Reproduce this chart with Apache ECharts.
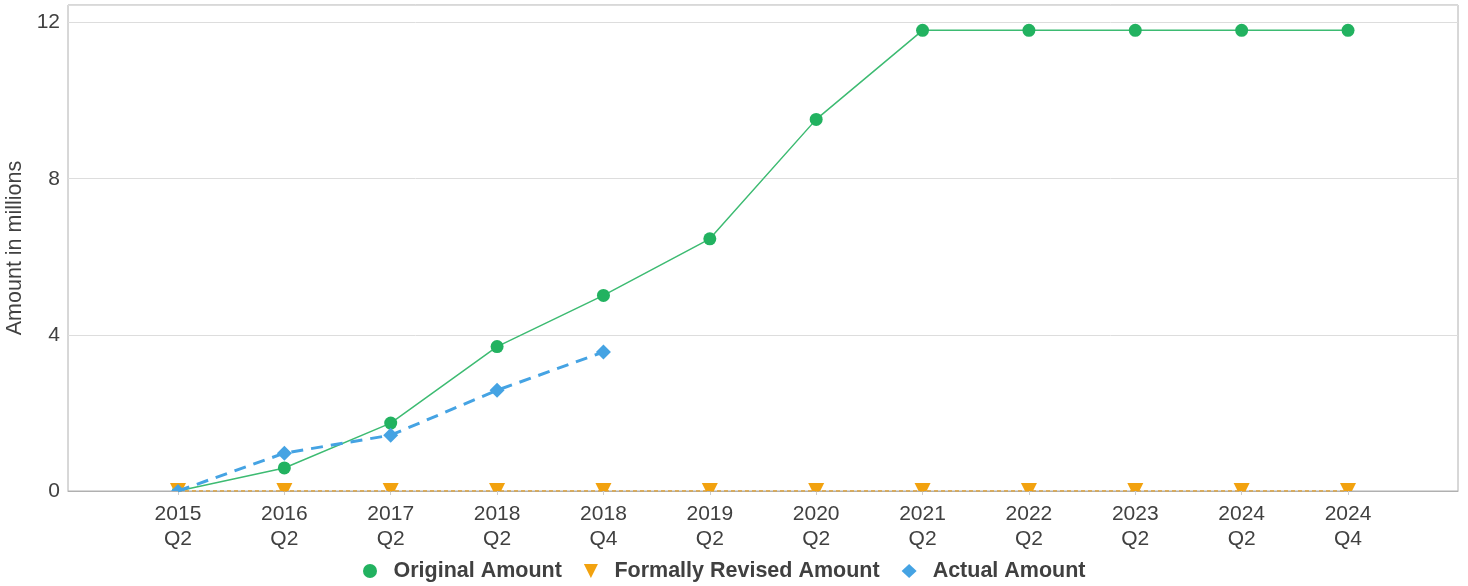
<!DOCTYPE html>
<html><head><meta charset="utf-8">
<script src="https://cdn.jsdelivr.net/npm/echarts@6/dist/echarts.min.js"></script>
<style>html,body{margin:0;padding:0;background:#fff}#c{width:1468px;height:586px}</style>
</head><body><div id="c"></div>
<script>
const categories = ['2015\nQ2','2016\nQ2','2017\nQ2','2018\nQ2','2018\nQ4','2019\nQ2','2020\nQ2','2021\nQ2','2022\nQ2','2023\nQ2','2024\nQ2','2024\nQ4'];
const originalAmount = [0, 0.59, 1.74, 3.70, 5.01, 6.46, 9.52, 11.8, 11.8, 11.8, 11.8, 11.8];
const revisedAmount = [0, 0, 0, 0, 0, 0, 0, 0, 0, 0, 0, 0];
const actualAmount = [0, 0.97, 1.43, 2.58, 3.56, null, null, null, null, null, null, null];
const yTicks = [0, 4, 8, 12];

// symbols: full shapes, and half shapes for points sitting on the bottom edge (clipped look)
const triFull = 'path://M0,0 L16,0 L8,16 Z';
const triHalf = 'path://M0,0 L16,0 L12,8 L4,8 Z';
const diaHalf = 'path://M0,7 L7,0 L14,7 Z';
const cirHalf = 'path://M0,6 A6,6 0 0 1 12,6 Z';

function build(values, full, fullSize, half, halfSize) {
  return values.map((v, i) => {
    if (v === 0) return { value: [i, v], symbol: half, symbolSize: halfSize, symbolOffset: [0, -halfSize[1] / 2] };
    return { value: [i, v], symbol: full, symbolSize: fullSize };
  });
}
const idx = categories.map((_, i) => i);

const chart = echarts.init(document.getElementById('c'));
chart.setOption({
  animation: false,
  grid: { left: 68, right: 10, top: 5, bottom: 95, show: true, borderColor: '#b0b0b0', borderWidth: 1,
    outerBoundsMode: 'none', containLabel: false },
  legend: {
    bottom: -1, left: 358, itemGap: 22, itemWidth: 15, itemHeight: 14,
    textStyle: { fontSize: 21.5, fontWeight: 'bold', color: '#404040', fontFamily: 'Liberation Sans', padding: [0, 0, 0, 11] },
    data: [
      { name: 'Original Amount', icon: 'circle', itemStyle: { color: '#22b260' } },
      { name: 'Formally Revised Amount', icon: triFull },
      { name: 'Actual Amount', icon: 'diamond' }
    ]
  },
  xAxis: {
    type: 'value', min: -1.034, max: 12.034,
    axisLine: { show: true, onZero: false, lineStyle: { color: '#b0b0b0' } },
    axisTick: { show: true, length: 4, customValues: idx, lineStyle: { color: '#cccccc' } },
    axisLabel: { fontSize: 21, color: '#404040', lineHeight: 25, margin: 11, fontFamily: 'Liberation Sans',
      customValues: idx, formatter: v => categories[Math.round(v)] || '' },
    splitLine: { show: false }
  },
  yAxis: {
    type: 'value', min: 0, max: 12.45, interval: 4,
    name: 'Amount in millions', nameLocation: 'middle', nameGap: 42,
    nameTextStyle: { fontSize: 21.5, color: '#404040', fontFamily: 'Liberation Sans' },
    axisLine: { show: false }, axisTick: { show: false },
    axisLabel: { fontSize: 21, color: '#404040', fontFamily: 'Liberation Sans', margin: 8,
      formatter: v => yTicks.includes(v) ? String(v) : '' },
    splitLine: { lineStyle: { color: '#dddddd', width: 1 } }
  },
  series: [
    { name: 'Original Amount', type: 'line', data: build(originalAmount, 'circle', 13, cirHalf, [12, 6]),
      symbol: 'circle', showAllSymbol: true,
      itemStyle: { color: '#22b260' }, lineStyle: { color: '#3dbb72', width: 1.5 }, z: 3 },
    { name: 'Formally Revised Amount', type: 'line', data: build(revisedAmount, triFull, [16, 16], triHalf, [16, 8]),
      symbol: triFull, showAllSymbol: true,
      itemStyle: { color: '#f2a20f' }, lineStyle: { color: '#e0a030', width: 1.5, type: [4, 3] }, z: 4 },
    { name: 'Actual Amount', type: 'line', data: build(actualAmount, 'diamond', 15, diaHalf, [14, 7]),
      symbol: 'diamond', showAllSymbol: true, connectNulls: false,
      itemStyle: { color: '#45a3e3' }, lineStyle: { color: '#45a3e3', width: 3, type: [12, 8] }, z: 5 }
  ]
});
</script></body></html>
